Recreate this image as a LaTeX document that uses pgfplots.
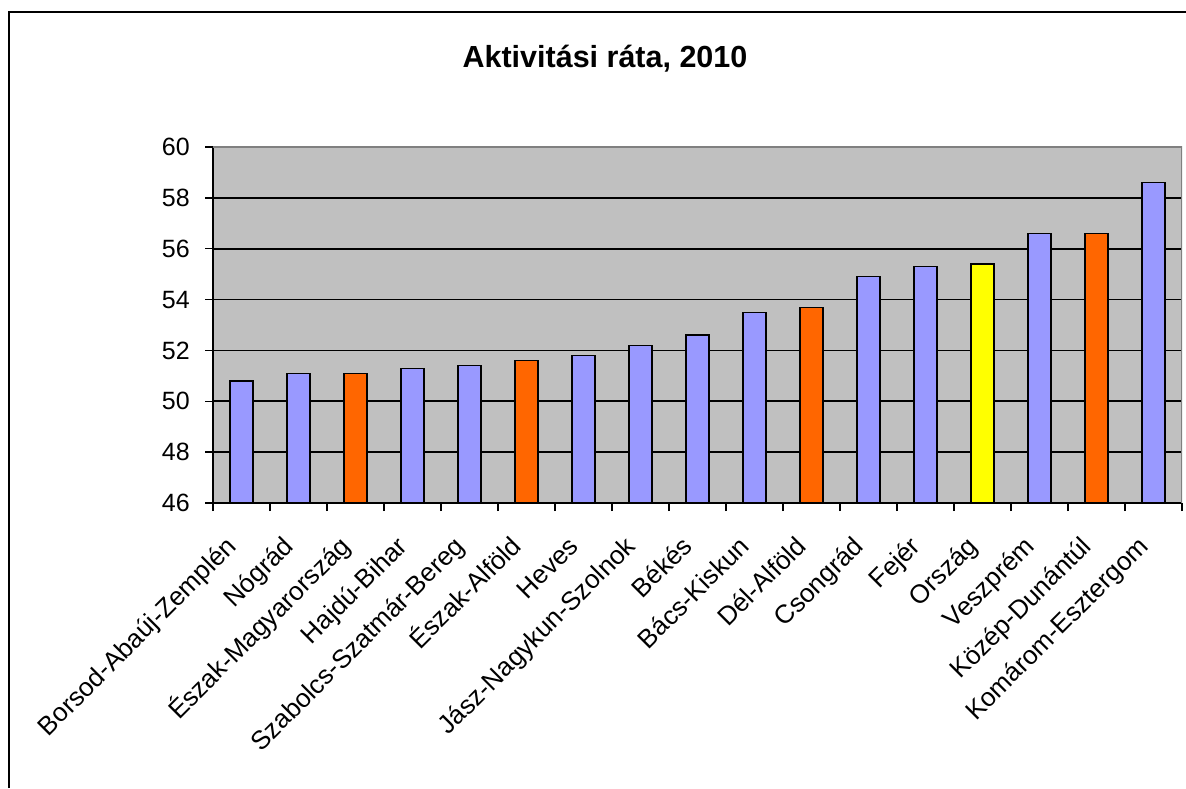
\documentclass[border=0pt]{standalone}
\usepackage{fontspec}
\setmainfont{Liberation Sans}
\usepackage{pgfplots}
\pgfplotsset{compat=1.18}
\definecolor{barblue}{HTML}{9999FF}
\definecolor{barorange}{HTML}{FF6600}
\definecolor{baryellow}{HTML}{FFFF00}
\definecolor{plotbg}{HTML}{C0C0C0}
\definecolor{bordergray}{HTML}{808080}
\begin{document}
\begin{tikzpicture}[x=1pt,y=1pt]
\useasboundingbox (0,0) rectangle (1186,788);
\fill[white] (0,0) rectangle (1186,788);
% chart frame
\draw[line width=2pt] (8.5,0) -- (8.5,776) -- (1186,776);
\node[anchor=base, font=\fontsize{30.5}{36}\selectfont\bfseries] at (605,720) {Aktivitási ráta, 2010};
\begin{axis}[
  at={(213pt,285pt)}, anchor=south west,
  width=969pt, height=356pt, scale only axis,
  xmin=-0.5, xmax=16.5, ymin=46, ymax=60,
  axis lines=left,
  axis line style={-, line width=1.6pt, black},
  axis background/.style={fill=plotbg},
  ymajorgrids,
  grid style={black, line width=1.6pt},
  ytick={46,48,...,60},
  /pgf/number format/assume math mode=true,
  tick align=outside,
  major tick length=8pt,
  tick style={black, line width=1.4pt},
  yticklabel style={font=\fontsize{25}{30}\selectfont, inner sep=0pt, xshift=-15pt},
  x tick label as interval,
  xtick={-0.5,0.5,...,16.5},
  xticklabels={Borsod-Abaúj-Zemplén,Nógrád,Észak-Magyarország,Hajdú-Bihar,Szabolcs-Szatmár-Bereg,Észak-Alföld,Heves,Jász-Nagykun-Szolnok,Békés,Bács-Kiskun,Dél-Alföld,Csongrád,Fejér,Ország,Veszprém,Közép-Dunántúl,Komárom-Esztergom},
  xticklabel style={font=\fontsize{26}{31}\selectfont, xshift=-5.5pt, yshift=-35pt,
    rotate=45, anchor=east, inner sep=0pt, text height=0.72em, text depth=0.2em},
  ybar, bar width=23pt, bar shift=0pt,
  every axis plot/.append style={draw=black, line width=1.4pt},
]
% megyék
\addplot[fill=barblue] coordinates {(0,50.8) (1,51.1) (3,51.3) (4,51.4) (6,51.8) (7,52.2) (8,52.6) (9,53.5) (11,54.9) (12,55.3) (14,56.6) (16,58.6)};
% régiók
\addplot[fill=barorange] coordinates {(2,51.1) (5,51.6) (10,53.7) (15,56.6)};
% országos átlag
\addplot[fill=baryellow] coordinates {(13,55.4)};
\draw[bordergray, line width=1.6pt] (rel axis cs:0,1) -- (rel axis cs:1,1) -- (rel axis cs:1,0);
\end{axis}
\end{tikzpicture}
\end{document}
